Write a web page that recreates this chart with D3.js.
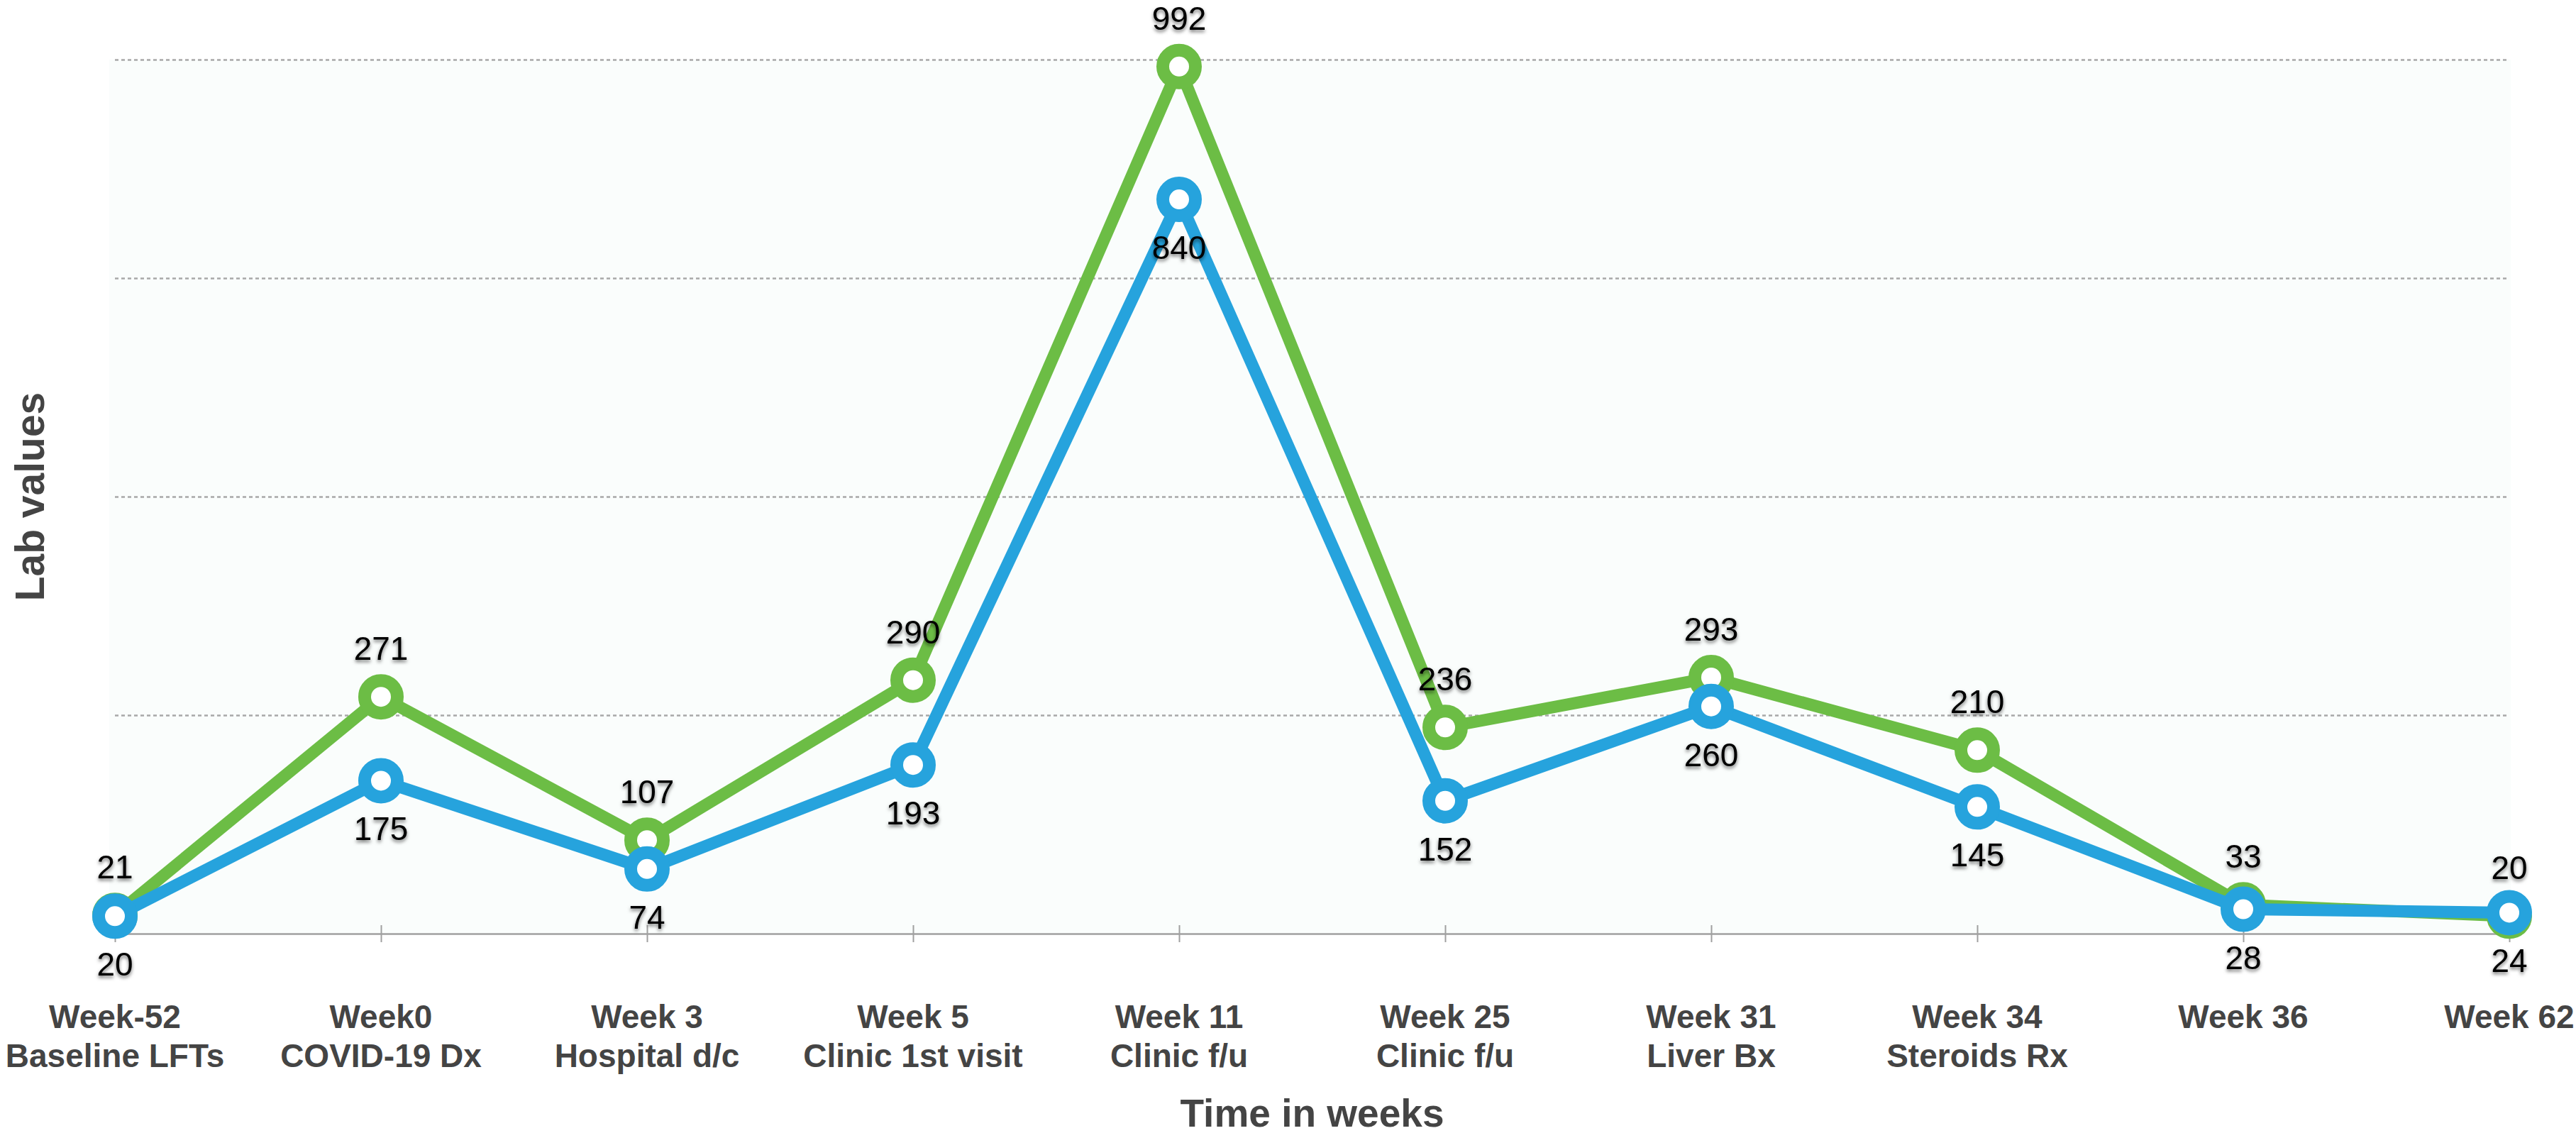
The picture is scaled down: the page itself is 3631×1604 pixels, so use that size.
<!DOCTYPE html>
<html><head><meta charset="utf-8">
<script src="https://cdn.jsdelivr.net/npm/d3@7"></script>
<style>html,body{margin:0;padding:0;background:#fff;} svg{display:block;}</style>
</head><body><svg id="chart" width="3631" height="1604"></svg>
<script>
const categories = ["Week-52","Week0","Week 3","Week 5","Week 11","Week 25","Week 31","Week 34","Week 36","Week 62"];
const categorySubLabels = ["Baseline LFTs","COVID-19 Dx","Hospital d/c","Clinic 1st visit","Clinic f/u","Clinic f/u","Liver Bx","Steroids Rx","",""];
const greenValues = [21,271,107,290,992,236,293,210,33,20];
const blueValues = [20,175,74,193,840,152,260,145,28,24];
const gridTicks = [250,500,750,1000];
const yAxisTitle = "Lab values";
const xAxisTitle = "Time in weeks";

const W = 3631, H = 1604;
const margin = {left:162, right:94, top:84, bottom:288};
const svg = d3.select("#chart");
const x = d3.scalePoint().domain(categories).range([margin.left, W - margin.right]);
const y = d3.scaleLinear().domain([0,1000]).range([H - margin.bottom, margin.top]);

const defs = svg.append("defs");
const f = defs.append("filter").attr("id","shadow").attr("x","-20%").attr("y","-30%").attr("width","140%").attr("height","170%");
f.append("feDropShadow").attr("dx",0).attr("dy",3).attr("stdDeviation",2.5).attr("flood-color","#000").attr("flood-opacity",0.55);

// plot background tint
svg.append("rect").attr("x", margin.left - 8).attr("y", y(1000)).attr("width", W - margin.right - margin.left + 10)
  .attr("height", y(0) - y(1000)).attr("fill", "#fafdfc");

// gridlines
const grid = svg.append("g").attr("transform", `translate(${margin.left},0)`)
  .call(d3.axisLeft(y).tickValues(gridTicks).tickSize(-(W - margin.right - margin.left)).tickFormat(""));
grid.select(".domain").remove();
grid.selectAll(".tick line").attr("stroke","#a8a8a8").attr("stroke-width",2.5).attr("stroke-dasharray","5,4");

// x axis
const xa = svg.append("g").attr("transform", `translate(0,${y(0)})`)
  .call(d3.axisBottom(x).tickSize(12).tickSizeOuter(0).tickFormat(""));
xa.select(".domain").attr("stroke","#a0a0a0").attr("stroke-width",2.5);
xa.selectAll(".tick line").attr("stroke","#a0a0a0").attr("stroke-width",2).attr("y1",-12).attr("y2",12);

// tick labels
const tl = svg.append("g").attr("font-family","'Liberation Sans', Arial, sans-serif").attr("font-weight","bold")
  .attr("font-size",46).attr("fill","#444").attr("text-anchor","middle");
categories.forEach((c,i) => {
  const t = tl.append("text").attr("x", x(c)).attr("y", y(0) + 133);
  t.append("tspan").attr("x", x(c)).text(c);
  if (categorySubLabels[i]) t.append("tspan").attr("x", x(c)).attr("dy", 55).text(categorySubLabels[i]);
});

// axis titles
svg.append("text").attr("x", (margin.left + W - margin.right)/2).attr("y", 1588)
  .attr("text-anchor","middle").attr("font-family","'Liberation Sans', Arial, sans-serif").attr("font-weight","bold")
  .attr("font-size",55).attr("fill","#444").text(xAxisTitle);
svg.append("text").attr("transform", `translate(62,${(y(0)+y(1000))/2}) rotate(-90)`)
  .attr("text-anchor","middle").attr("font-family","'Liberation Sans', Arial, sans-serif").attr("font-weight","bold")
  .attr("font-size",57).attr("fill","#444").text(yAxisTitle);

const line = d3.line().x((d,i) => x(categories[i])).y(d => y(d));

function drawSeries(vals, color) {
  svg.append("path").datum(vals).attr("d", line).attr("fill","none").attr("stroke",color)
    .attr("stroke-width",17).attr("stroke-linejoin","round");
  svg.append("g").selectAll("circle").data(vals).join("circle")
    .attr("cx",(d,i)=>x(categories[i])).attr("cy",d=>y(d)).attr("r",23)
    .attr("fill","#fff").attr("stroke",color).attr("stroke-width",18);
}
drawSeries(greenValues, "#6cbd45");
drawSeries(blueValues, "#26a3dd");

const lab = svg.append("g").attr("font-family","'Liberation Sans', Arial, sans-serif").attr("font-size",46)
  .attr("fill","#000").attr("text-anchor","middle").attr("filter","url(#shadow)");
greenValues.forEach((v,i) => lab.append("text").attr("x", x(categories[i])).attr("y", y(v) - 52).text(v));
blueValues.forEach((v,i) => lab.append("text").attr("x", x(categories[i])).attr("y", y(v) + 84).text(v));
</script></body></html>
